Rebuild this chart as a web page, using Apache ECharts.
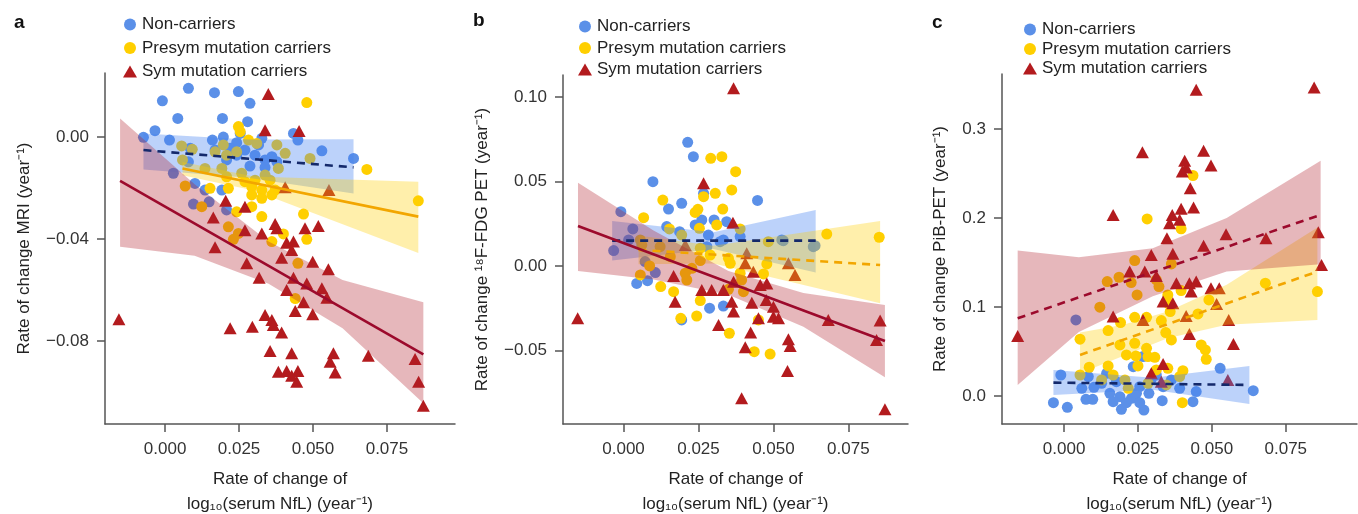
<!DOCTYPE html>
<html>
    <head>
        <meta charset="utf-8">
        <script src="https://cdn.jsdelivr.net/npm/echarts/dist/echarts.min.js"></script>
    </head>
    <body>
        <style>
            html, body, #main {
                margin: 0;
                width: 1358px;
                height: 514px;
                background: #fff;
            }
        </style>

        <div id="main"></div>

        <script>
            // group names
            const groups = ['Non-carriers', 'Presym mutation carriers', 'Sym mutation carriers'];

            // ---- panel a: MRI ----
            const aNon = [[0.0079,0.0191],[-0.0009,0.0142],[0.0167,0.0174],[0.0248,0.0178],[0.0287,0.0132],[0.0043,0.0073],[0.0194,0.0073],[0.0279,0.0060],[-0.0034,0.0025],[-0.0073,-0.0001],[0.0015,-0.0012],[0.0160,-0.0012],[0.0197,0.0000],[0.0242,-0.0022],[0.0434,0.0014],[0.0449,-0.0012],[0.0530,-0.0054],[0.0637,-0.0084],[0.0338,-0.0090],[0.0287,-0.0114],[0.0338,-0.0119],[0.0208,-0.0090],[0.0242,-0.0071],[0.0169,-0.0051],[0.0028,-0.0142],[0.0101,-0.0182],[0.0096,-0.0263],[0.0149,-0.0254],[0.0135,-0.0208],[0.0192,-0.0208],[0.0208,-0.0286],[0.0270,-0.0051],[0.0304,-0.0071],[0.0361,-0.0077],[0.0378,-0.0097],[0.0316,-0.0031],[0.0220,-0.0044],[0.0327,-0.0005],[0.0254,0.0014],[0.0079,-0.0097],[0.0085,-0.0044]];
            const aPre = [[0.0479,0.0135],[0.0248,0.0041],[0.0254,0.0021],[0.0282,-0.0012],[0.0310,-0.0025],[0.0378,-0.0031],[0.0056,-0.0035],[0.0092,-0.0048],[0.0059,-0.0090],[0.0169,-0.0058],[0.0197,-0.0031],[0.0208,-0.0071],[0.0242,-0.0058],[0.0406,-0.0064],[0.0490,-0.0084],[0.0383,-0.0123],[0.0682,-0.0127],[0.0135,-0.0123],[0.0192,-0.0123],[0.0208,-0.0156],[0.0259,-0.0142],[0.0270,-0.0175],[0.0293,-0.0195],[0.0327,-0.0208],[0.0355,-0.0169],[0.0372,-0.0208],[0.0293,-0.0227],[0.0327,-0.0240],[0.0361,-0.0227],[0.0152,-0.0201],[0.0214,-0.0201],[0.0068,-0.0192],[0.0124,-0.0273],[0.0293,-0.0273],[0.0327,-0.0312],[0.0242,-0.0293],[0.0214,-0.0352],[0.0248,-0.0378],[0.0231,-0.0401],[0.0468,-0.0302],[0.0400,-0.0380],[0.0479,-0.0401],[0.0361,-0.0410],[0.0856,-0.0250],[0.0338,-0.0149],[0.0304,-0.0169],[0.0449,-0.0495],[0.0440,-0.0633]];
            const aSym = [[0.0349,0.0169],[0.0338,0.0027],[0.0453,0.0024],[0.0554,-0.0208],[0.0406,-0.0197],[0.0205,-0.0250],[0.0270,-0.0273],[0.0163,-0.0315],[0.0372,-0.0341],[0.0473,-0.0358],[0.0518,-0.0349],[0.0327,-0.0378],[0.0270,-0.0365],[0.0378,-0.0358],[0.0411,-0.0414],[0.0434,-0.0410],[0.0169,-0.0432],[0.0276,-0.0495],[0.0394,-0.0473],[0.0428,-0.0443],[0.0499,-0.0489],[0.0552,-0.0518],[0.0318,-0.0552],[0.0434,-0.0552],[0.0479,-0.0574],[0.0530,-0.0593],[0.0411,-0.0600],[0.0547,-0.0630],[0.0468,-0.0648],[0.0440,-0.0682],[0.0499,-0.0695],[-0.0156,-0.0714],[0.0338,-0.0698],[0.0361,-0.0717],[0.0366,-0.0737],[0.0394,-0.0766],[0.0220,-0.0750],[0.0295,-0.0744],[0.0355,-0.0839],[0.0428,-0.0848],[0.0569,-0.0848],[0.0558,-0.0881],[0.0687,-0.0857],[0.0845,-0.0870],[0.0383,-0.0920],[0.0411,-0.0917],[0.0449,-0.0917],[0.0428,-0.0936],[0.0575,-0.0923],[0.0445,-0.0959],[0.0857,-0.0959],[0.0873,-0.1053]];
            const aFitNon = [[-0.0073,-0.0051],[0.0637,-0.0119]];
            const aFitPre = [[0.0059,-0.0123],[0.0856,-0.0312]];
            const aFitSym = [[-0.0152,-0.0172],[0.0873,-0.0852]];
            // band rows: [x, lower, upper]
            const aBandNon = [[-0.0073,-0.0127,0.0014],[0.028,-0.0160,-0.0010],[0.0637,-0.0221,-0.0009]];
            const aBandPre = [[0.0059,-0.0150,-0.0098],[0.030,-0.0210,-0.0155],[0.0856,-0.0455,-0.0175]];
            const aBandSym = [[-0.0152,-0.0430,0.0073],[0.010,-0.0465,-0.0185],[0.035,-0.0575,-0.0410],[0.060,-0.0750,-0.0560],[0.0873,-0.1044,-0.0648]];

            // ---- panel b: FDG PET ----
            const bNon = [[0.0214,0.0732],[0.0233,0.0647],[0.0098,0.0499],[0.0194,0.0371],[0.0150,0.0337],[0.0447,0.0388],[-0.0009,0.0321],[0.0031,0.0219],[0.0267,0.0430],[0.0261,0.0272],[0.0302,0.0272],[0.0344,0.0262],[0.0144,0.0233],[0.0187,0.0203],[0.0239,0.0243],[0.0389,0.0174],[0.0528,0.0154],[0.0639,0.0120],[0.0017,0.0154],[0.0322,0.0144],[0.0283,0.0183],[-0.0033,0.0091],[0.0044,-0.0103],[0.0080,-0.0087],[0.0106,-0.0039],[0.0287,-0.0250],[0.0333,-0.0237],[0.0194,-0.0319],[0.0278,0.0114],[0.0333,0.0154],[0.0533,0.0150],[0.0633,0.0114],[0.0072,0.0026]];
            const bPre = [[0.0291,0.0637],[0.0328,0.0647],[0.0374,0.0558],[0.0361,0.0450],[0.0306,0.0430],[0.0267,0.0410],[0.0131,0.0390],[0.0331,0.0337],[0.0248,0.0335],[0.0239,0.0317],[0.0067,0.0286],[0.0253,0.0223],[0.0311,0.0243],[0.0389,0.0219],[0.0153,0.0219],[0.0194,0.0183],[0.0678,0.0189],[0.0853,0.0170],[0.0056,0.0154],[0.0483,0.0144],[0.0056,-0.0053],[0.0087,0.0000],[0.0124,-0.0122],[0.0167,-0.0152],[0.0256,-0.0205],[0.0244,-0.0296],[0.0191,-0.0310],[0.0353,-0.0398],[0.0450,-0.0319],[0.0436,-0.0507],[0.0489,-0.0521],[0.0394,-0.0083],[0.0400,-0.0152],[0.0350,-0.0138],[0.0467,-0.0047],[0.0478,0.0012],[0.0206,-0.0043],[0.0211,-0.0083],[0.0228,-0.0014],[0.0256,0.0032],[0.0356,0.0016],[0.0350,0.0045],[0.0389,-0.0043],[0.0156,0.0055],[0.0061,0.0124],[0.0122,0.0114],[0.0256,0.0105],[0.0289,0.0065]];
            const bSym = [[0.0367,0.1051],[0.0267,0.0489],[0.0365,0.0256],[0.0206,0.0124],[0.0411,0.0075],[-0.0153,-0.0310],[0.0167,-0.0059],[0.0172,-0.0211],[0.0261,-0.0142],[0.0294,-0.0142],[0.0333,-0.0142],[0.0367,-0.0093],[0.0406,0.0016],[0.0433,-0.0034],[0.0456,-0.0112],[0.0478,-0.0103],[0.0361,-0.0211],[0.0367,-0.0270],[0.0428,-0.0217],[0.0476,-0.0201],[0.0500,-0.0241],[0.0500,-0.0300],[0.0517,-0.0310],[0.0450,-0.0310],[0.0317,-0.0349],[0.0424,-0.0394],[0.0406,-0.0481],[0.0550,-0.0434],[0.0556,-0.0473],[0.0547,-0.0621],[0.0394,-0.0783],[0.0683,-0.0319],[0.0856,-0.0323],[0.0844,-0.0438],[0.0872,-0.0848],[0.0550,0.0016],[0.0572,-0.0053]];
            const bFitNon = [[-0.0038,0.0150],[0.0641,0.0150]];
            const bFitPre = [[0.0050,0.0095],[0.0856,0.0006]];
            const bFitSym = [[-0.0152,0.0237],[0.0872,-0.0444]];
            const bBandNon = [[-0.0038,0.0032,0.0266],[0.030,0.0100,0.0200],[0.0641,-0.0039,0.0331]];
            const bBandPre = [[0.0050,0.0010,0.0180],[0.030,0.0015,0.0120],[0.0856,-0.0221,0.0266]];
            const bBandSym = [[-0.0152,-0.0030,0.0493],[0.010,-0.0080,0.0210],[0.035,-0.0170,-0.0030],[0.060,-0.0360,-0.0160],[0.0872,-0.0659,-0.0231]];

            // ---- panel c: PiB PET ----
            const cNon = [[0.0040,0.0855],[-0.0036,-0.0075],[0.0011,-0.0128],[-0.0011,0.0236],[0.0060,0.0086],[0.0082,0.0218],[0.0101,0.0098],[0.0074,-0.0038],[0.0097,-0.0038],[0.0144,0.0255],[0.0155,0.0030],[0.0189,-0.0008],[0.0194,-0.0150],[0.0211,-0.0075],[0.0228,-0.0026],[0.0245,0.0030],[0.0256,0.0105],[0.0234,0.0330],[0.0267,0.0443],[0.0270,-0.0158],[0.0287,0.0030],[0.0332,-0.0053],[0.0335,0.0105],[0.0391,0.0086],[0.0436,-0.0064],[0.0447,0.0049],[0.0528,0.0311],[0.0640,0.0060],[0.0177,0.0161],[0.0127,0.0143],[0.0295,0.0188],[0.0363,0.0180],[0.0312,0.0236],[0.0256,-0.0075],[0.0166,-0.0064]];
            const cPre = [[0.0436,0.2479],[0.0281,0.1991],[0.0396,0.1879],[0.0239,0.1523],[0.0363,0.1485],[0.0186,0.1335],[0.0146,0.1286],[0.0227,0.1275],[0.0312,0.1305],[0.0321,0.1230],[0.0247,0.1136],[0.0121,0.0998],[0.0396,0.1185],[0.0351,0.1136],[0.0351,0.1043],[0.0359,0.0949],[0.0490,0.1080],[0.0681,0.1268],[0.0857,0.1174],[0.0453,0.0923],[0.0239,0.0885],[0.0279,0.0885],[0.0191,0.0825],[0.0149,0.0735],[0.0054,0.0638],[0.0329,0.0848],[0.0344,0.0713],[0.0363,0.0630],[0.0189,0.0574],[0.0239,0.0593],[0.0279,0.0536],[0.0284,0.0443],[0.0211,0.0461],[0.0243,0.0450],[0.0307,0.0435],[0.0464,0.0574],[0.0478,0.0518],[0.0481,0.0413],[0.0085,0.0323],[0.0149,0.0338],[0.0250,0.0338],[0.0312,0.0293],[0.0351,0.0311],[0.0402,0.0285],[0.0054,0.0236],[0.0127,0.0180],[0.0206,0.0180],[0.0166,0.0236],[0.0284,0.0143],[0.0346,0.0124],[0.0391,0.0218],[0.0400,-0.0075],[0.0217,0.0086]];
            const cSym = [[0.0447,0.3443],[0.0846,0.3469],[0.0265,0.2741],[0.0472,0.2756],[0.0408,0.2644],[0.0413,0.2569],[0.0400,0.2524],[0.0497,0.2591],[0.0427,0.2336],[0.0166,0.2036],[0.0366,0.2036],[0.0396,0.2104],[0.0438,0.2119],[0.0357,0.1943],[0.0391,0.1980],[0.0348,0.1774],[0.0548,0.1819],[0.0683,0.1774],[0.0860,0.1841],[0.0472,0.1690],[0.0295,0.1586],[0.0368,0.1598],[0.0222,0.1399],[0.0273,0.1399],[0.0312,0.1350],[0.0380,0.1268],[0.0424,0.1268],[0.0447,0.1286],[0.0430,0.1174],[0.0497,0.1211],[0.0525,0.1211],[0.0516,0.1035],[0.0335,0.1061],[0.0368,0.1043],[0.0166,0.0893],[0.0267,0.0855],[0.0413,0.0900],[0.0557,0.0855],[0.0424,0.0698],[0.0573,0.0585],[-0.0157,0.0675],[0.0871,0.1474],[0.0335,0.0360],[0.0295,0.0255],[0.0329,0.0161],[0.0554,0.0180]];
            const cFitNon = [[-0.0036,0.0150],[0.0627,0.0124]];
            const cFitPre = [[0.0054,0.0461],[0.0857,0.1399]];
            const cFitSym = [[-0.0157,0.0874],[0.0868,0.2036]];
            const cBandNon = [[-0.0036,0.0011,0.0293],[0.030,0.0070,0.0205],[0.0627,-0.0090,0.0338]];
            const cBandPre = [[0.0054,0.0255,0.0713],[0.020,0.0450,0.0800],[0.035,0.0650,0.0950],[0.055,0.0800,0.1250],[0.0857,0.0855,0.1894]];
            const cBandSym = [[-0.0157,0.0124,0.1635],[0.005,0.0720,0.1560],[0.030,0.1120,0.1660],[0.055,0.1400,0.2000],[0.0868,0.1480,0.2644]];

            // tick labels
            const xTicks = [0, 0.025, 0.05, 0.075];
            const aTicks = [-0.08, -0.04, 0];
            const bTicks = [-0.05, 0, 0.05, 0.10];
            const cTicks = [0, 0.1, 0.2, 0.3];

            var chart = echarts.init(document.querySelector('#main'));

            const FONT = 'Liberation Sans, Arial, sans-serif';
            const colPt = ['#5B90E8', '#FFCF00', '#B31B1E'];
            const colLine = ['#14296B', '#F2A600', '#9C0A2C'];
            const colBand = ['rgba(70,130,240,0.36)', 'rgba(255,205,0,0.33)', 'rgba(178,30,45,0.32)'];

            const fmt = d => v => v.toFixed(d).replace('-', '\u2212');

            function xAxis(i, min, max) {
                return {
                    type: 'value', gridIndex: i, min: min, max: max,
                    name: 'Rate of change of\nlog\u2081\u2080(serum NfL) (year\u207B\u00B9)',
                    nameLocation: 'middle', nameGap: 43,
                    nameTextStyle: {fontSize: 17, lineHeight: 25, color: '#222'},
                    splitLine: {show: false},
                    axisLine: {onZero: false, lineStyle: {color: '#555', width: 1.5}},
                    axisTick: {customValues: xTicks, length: 8, lineStyle: {color: '#555', width: 1.5}},
                    axisLabel: {customValues: xTicks, formatter: fmt(3), fontSize: 17, color: '#333', margin: 17}
                };
            }
            function yAxis(i, min, max, ticks, dec, name, gap) {
                return {
                    type: 'value', gridIndex: i, min: min, max: max,
                    name: name, nameLocation: 'middle', nameGap: gap,
                    nameTextStyle: {fontSize: 17, color: '#222'},
                    splitLine: {show: false},
                    axisLine: {onZero: false, lineStyle: {color: '#555', width: 1.5}},
                    axisTick: {customValues: ticks, length: 8, lineStyle: {color: '#555', width: 1.5}},
                    axisLabel: {customValues: ticks, formatter: fmt(dec), fontSize: 17, color: '#333', margin: 16}
                };
            }

            function band(i, rows, color) {
                return {
                    type: 'custom', xAxisIndex: i, yAxisIndex: i, z: 3, silent: true,
                    encode: {x: 0, y: [1, 2]},
                    data: rows,
                    renderItem: function (params, api) {
                        if (params.dataIndex !== 0) return;
                        const top = rows.map(r => api.coord([r[0], r[2]]));
                        const bot = rows.slice().reverse().map(r => api.coord([r[0], r[1]]));
                        return {type: 'polygon', shape: {points: top.concat(bot)}, style: {fill: color}};
                    }
                };
            }
            function fit(i, pts, color, dashed) {
                return {
                    type: 'line', xAxisIndex: i, yAxisIndex: i, z: 4, silent: true,
                    data: pts, symbol: 'none',
                    lineStyle: {color: color, width: 2.6, type: dashed ? [8, 6] : 'solid'}
                };
            }
            function points(i, g, pts) {
                return {
                    type: 'scatter', name: groups[g], xAxisIndex: i, yAxisIndex: i, z: 2,
                    data: pts,
                    symbol: g === 2 ? 'triangle' : 'circle',
                    symbolSize: g === 2 ? [13, 12] : 11,
                    itemStyle: {color: colPt[g], opacity: 1}
                };
            }
            function panel(i, pts, bands, fits, dashes) {
                const s = [];
                for (let g = 0; g < 3; g++) s.push(points(i, g, pts[g]));
                for (let g = 0; g < 3; g++) {
                    s.push(band(i, bands[g], colBand[g]));
                    s.push(fit(i, fits[g], colLine[g], dashes[g]));
                }
                return s;
            }
            function legend(left, top, gap) {
                return {
                    orient: 'vertical', left: left, top: top,
                    itemWidth: 14, itemHeight: 12, itemGap: gap,
                    textStyle: {fontSize: 17, color: '#222'},
                    data: [
                        {name: groups[0], icon: 'circle'},
                        {name: groups[1], icon: 'circle'},
                        {name: groups[2], icon: 'triangle'}
                    ]
                };
            }

            var option = {
                animation: false,
                textStyle: {fontFamily: FONT},
                title: [
                    {text: 'a', left: 9, top: 8, textStyle: {fontSize: 19, fontWeight: 'bold', color: '#111'}},
                    {text: 'b', left: 468, top: 6, textStyle: {fontSize: 19, fontWeight: 'bold', color: '#111'}},
                    {text: 'c', left: 927, top: 8, textStyle: {fontSize: 19, fontWeight: 'bold', color: '#111'}}
                ],
                legend: [legend(118, 11, 6.5), legend(573, 13, 4.5), legend(1018, 16, 2.5)],
                grid: [
                    {left: 105, top: 73, width: 350, height: 351, outerBoundsMode: 'none'},
                    {left: 563, top: 75, width: 345, height: 349, outerBoundsMode: 'none'},
                    {left: 1002, top: 74, width: 355, height: 350, outerBoundsMode: 'none'}
                ],
                xAxis: [
                    xAxis(0, -0.0203, 0.098),
                    xAxis(1, -0.0202, 0.0949),
                    xAxis(2, -0.0210, 0.0991)
                ],
                yAxis: [
                    yAxis(0, -0.1125, 0.0251, aTicks, 2, 'Rate of change MRI (year\u207B\u00B9)', 72),
                    yAxis(1, -0.0935, 0.113, bTicks, 2, 'Rate of change \u00B9\u2078F-FDG PET (year\u207B\u00B9)', 72),
                    yAxis(2, -0.0315, 0.362, cTicks, 1, 'Rate of change PiB-PET (year\u207B\u00B9)', 53)
                ],
                series: [].concat(
                    panel(0, [aNon, aPre, aSym], [aBandNon, aBandPre, aBandSym], [aFitNon, aFitPre, aFitSym], [true, false, false]),
                    panel(1, [bNon, bPre, bSym], [bBandNon, bBandPre, bBandSym], [bFitNon, bFitPre, bFitSym], [true, true, false]),
                    panel(2, [cNon, cPre, cSym], [cBandNon, cBandPre, cBandSym], [cFitNon, cFitPre, cFitSym], [true, true, true])
                )
            };

            chart.setOption(option);
        </script>
    </body>
</html>
